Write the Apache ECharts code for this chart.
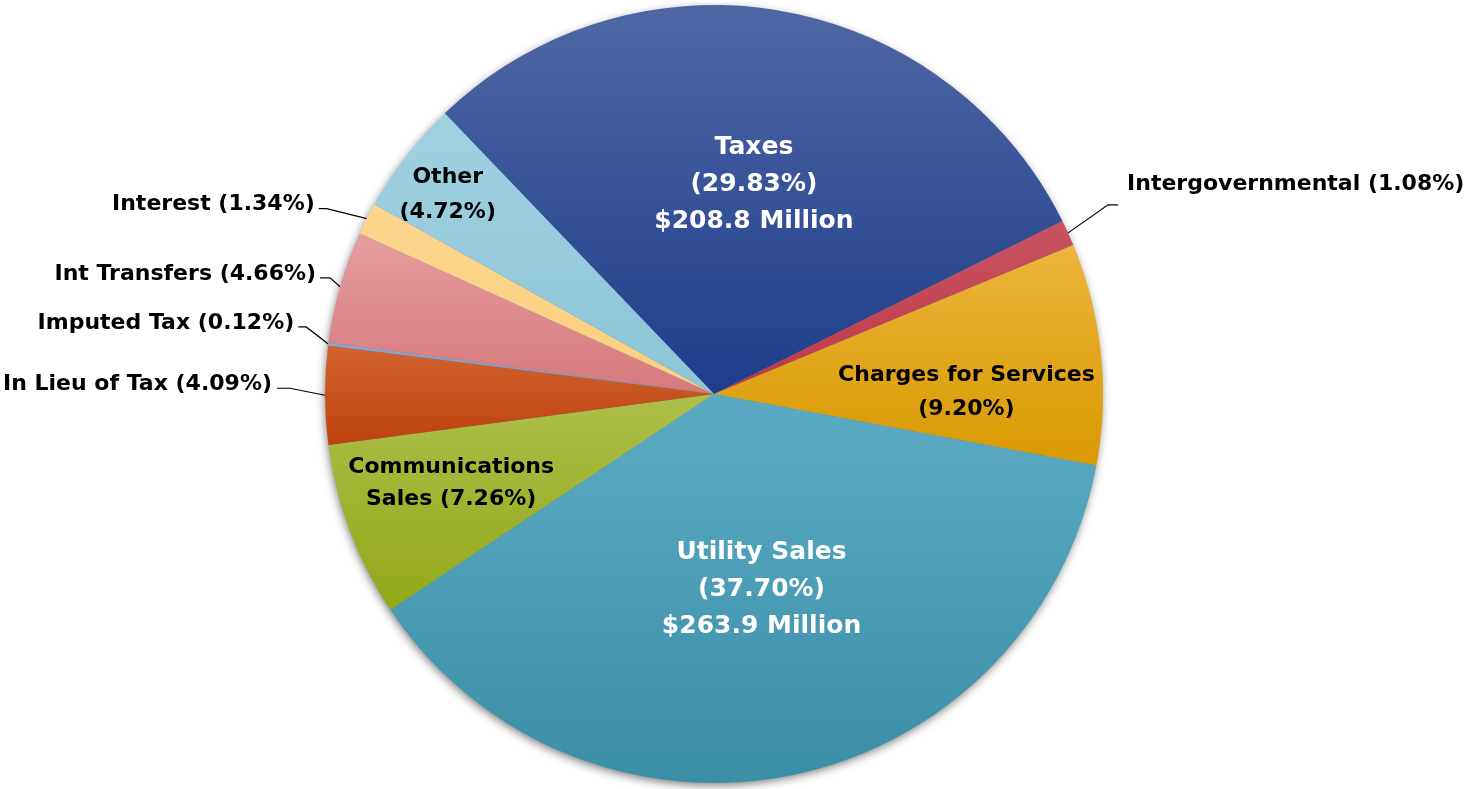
<!DOCTYPE html>
<html>
<head>
<meta charset="utf-8">
<script src="https://cdn.jsdelivr.net/npm/echarts@6/dist/echarts.min.js"></script>
<style>
  html, body { margin: 0; padding: 0; background: #fff; }
  #chart-container { width: 1469px; height: 789px; }
</style>
</head>
<body>
<div id="chart-container"></div>
<script>
// Revenue sources, clockwise from the Taxes slice
const categories = ['Taxes', 'Intergovernmental', 'Charges for Services', 'Utility Sales',
  'Communications Sales', 'In Lieu of Tax', 'Imputed Tax', 'Int Transfers', 'Interest', 'Other'];
const percents = [29.83, 1.08, 9.20, 37.70, 7.26, 4.09, 0.12, 4.66, 1.34, 4.72];
const millions = [208.8, null, null, 263.9, null, null, null, null, null, null];

// gradient top / bottom for each slice
const colorsTop = ['#4e67a4', '#c9535f', '#ecb53c', '#5cabc5', '#adbf4a', '#d2632f', '#8ea3d2', '#e79c9e', '#fdd58d', '#a0d1e1'];
const colorsBottom = ['#1e3d8c', '#bf3848', '#d99900', '#3a8ea5', '#93a718', '#be420d', '#8499cb', '#d6797c', '#fccf80', '#8dc4d7'];

const FONT = '"DejaVu Sans", sans-serif';

// label placement per slice (layout only)
const insideLabels = {
  'Taxes': { offset: [6, -15], color: '#fff', fontSize: 25, lineHeight: 37 },
  'Utility Sales': { offset: [8, 2], color: '#fff', fontSize: 25, lineHeight: 37 },
  'Charges for Services': { offset: [56, 19], color: '#000', fontSize: 22, lineHeight: 34 },
  'Communications Sales': { offset: [-78, 20], color: '#000', fontSize: 22, lineHeight: 32 },
  'Other': { offset: [-110, -78], color: '#000', fontSize: 22, lineHeight: 35 }
};
// leader lines: bend relative to slice edge, horizontal tail, text shift
const outsideLabels = {
  'Intergovernmental': { bend: [40, -28], tail: 10, textDx: 5, textDy: -21 },
  'In Lieu of Tax': { bend: [-35, -7], tail: 13, textDx: 1, textDy: -4 },
  'Imputed Tax': { bend: [-22, -17], tail: 8, textDx: 0, textDy: -4 },
  'Int Transfers': { bend: [-10, -9], tail: 10, textDx: 0, textDy: -4 },
  'Interest': { bend: [-40, -10], tail: 8, textDx: 0, textDy: -4 }
};

function labelText(i) {
  const name = categories[i];
  const pct = '(' + percents[i].toFixed(2) + '%)';
  if (millions[i] != null) return name + '\n' + pct + '\n$' + millions[i].toFixed(1) + ' Million';
  if (name === 'Communications Sales') return 'Communications\nSales ' + pct;
  if (insideLabels[name]) return name + '\n' + pct;
  return name + ' ' + pct;
}

const seriesData = categories.map((name, i) => {
  const item = {
    name: name,
    value: percents[i],
    itemStyle: {
      color: new echarts.graphic.LinearGradient(0, 0, 0, 1, [
        { offset: 0, color: colorsTop[i] },
        { offset: 1, color: colorsBottom[i] }
      ])
    }
  };
  const inside = insideLabels[name];
  if (inside) {
    item.label = {
      position: 'inside',
      align: 'center',
      offset: inside.offset,
      color: inside.color,
      fontSize: inside.fontSize,
      lineHeight: inside.lineHeight
    };
    item.labelLine = { show: false };
  }
  return item;
});

const chartContainer = document.getElementById('chart-container');
const myChart = echarts.init(chartContainer);
myChart.setOption({
  backgroundColor: '#ffffff',
  animation: false,
  graphic: [{
    type: 'circle',
    shape: { cx: 714, cy: 394, r: 388 },
    style: { fill: '#3a8ea5', shadowBlur: 10, shadowOffsetX: -1, shadowOffsetY: 3, shadowColor: 'rgba(0,0,0,0.55)' },
    z: -1
  }],
  series: [{
    type: 'pie',
    center: [714, 394],
    radius: [0, 389],
    startAngle: 133.8,
    clockwise: true,
    avoidLabelOverlap: false,
    data: seriesData,
    itemStyle: { borderWidth: 0 },
    label: {
      show: true,
      position: 'outside',
      formatter: (p) => labelText(p.dataIndex),
      fontFamily: FONT,
      fontWeight: 'bold',
      fontSize: 22,
      color: '#000',
      distanceToLabelLine: 4
    },
    labelLine: {
      show: true,
      length: 20,
      length2: 10,
      lineStyle: { color: '#000', width: 1.2 }
    },
    labelLayout: (params) => {
      const adj = outsideLabels[categories[params.dataIndex]];
      const pts = params.labelLinePoints;
      if (!adj || !pts) return {};
      const edge = pts[0];
      const dir = adj.bend[0] < 0 ? -1 : 1;
      const bend = [edge[0] + adj.bend[0], edge[1] + adj.bend[1]];
      const end = [bend[0] + dir * adj.tail, bend[1]];
      return {
        dx: end[0] - pts[2][0] + dir * adj.textDx,
        dy: end[1] - pts[2][1] + adj.textDy,
        labelLinePoints: [edge.slice(), bend, end]
      };
    }
  }]
});
</script>
</body>
</html>
